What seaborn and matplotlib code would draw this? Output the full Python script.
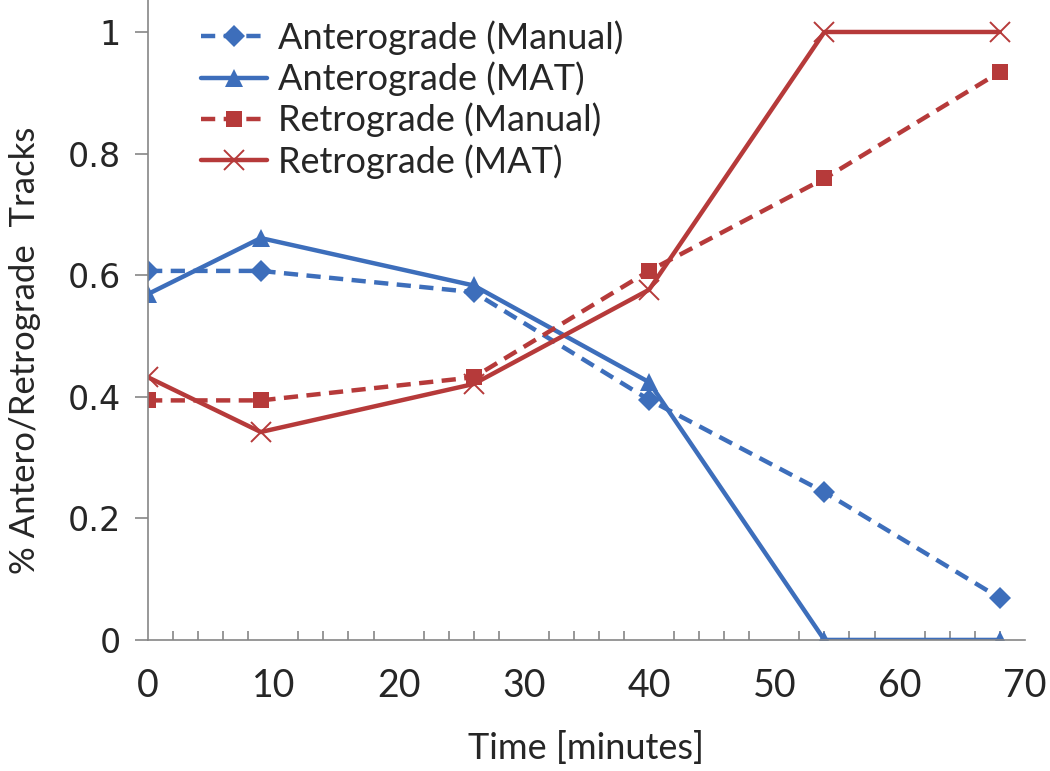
import numpy as np
import pandas as pd
import matplotlib
matplotlib.use('Agg')
import matplotlib.pyplot as plt
import seaborn as sns
from matplotlib.ticker import MultipleLocator

# Data
time_min = [0, 9, 26, 40, 54, 68]
antero_manual = [0.607, 0.607, 0.572, 0.395, 0.243, 0.069]
antero_mat = [0.569, 0.661, 0.583, 0.424, 0.0, 0.0]
retro_manual = [0.394, 0.394, 0.432, 0.607, 0.759, 0.934]
retro_mat = [0.432, 0.342, 0.421, 0.576, 1.0, 1.0]
y_ticks = [0, 0.2, 0.4, 0.6, 0.8, 1.0]
y_tick_labels = ['0', '0.2', '0.4', '0.6', '0.8', '1']

blue = '#3D6EBB'
red = '#B63A3A'

sns.set_style('white')
plt.rcParams['font.family'] = ['Lato', 'DejaVu Sans']

fig = plt.figure(figsize=(10.5, 7.71), dpi=100)
ax = fig.add_axes([0.141, 0.170, 0.835, 0.830])

dash = (0, (3.2, 1.9))
sns.lineplot(x=time_min, y=antero_manual, ax=ax, color=blue, lw=3.2, linestyle=dash,
             marker='D', markersize=11, markeredgewidth=0, label='Anterograde (Manual)')
sns.lineplot(x=time_min, y=antero_mat, ax=ax, color=blue, lw=3.2,
             marker='^', markersize=13, markeredgewidth=0, label='Anterograde (MAT)')
sns.lineplot(x=time_min, y=retro_manual, ax=ax, color=red, lw=3.2, linestyle=dash,
             marker='s', markersize=12, markeredgewidth=0, label='Retrograde (Manual)')
sns.lineplot(x=time_min, y=retro_mat, ax=ax, color=red, lw=3.2,
             marker='x', markersize=14, markeredgewidth=1.4, markeredgecolor=red,
             label='Retrograde (MAT)')

ax.set_xlim(0, 70)
ax.set_ylim(0, 1.0526)
ax.set_yticks(y_ticks)
ax.set_yticklabels(y_tick_labels, fontfamily='DejaVu Sans')
ax.set_xticks(range(0, 71, 10))
ax.xaxis.set_minor_locator(MultipleLocator(2))

for side in ['top', 'right']:
    ax.spines[side].set_visible(False)
for side in ['left', 'bottom']:
    ax.spines[side].set_color('#868686')
    ax.spines[side].set_linewidth(1.2)

ax.tick_params(axis='x', which='major', direction='inout', length=14, width=1.2,
               color='#868686', labelsize=27, pad=13)
ax.tick_params(axis='x', which='minor', direction='in', length=6.5, width=1.2,
               color='#868686', bottom=True)
ax.tick_params(axis='y', which='major', direction='out', length=9.5, width=1.2,
               color='#868686', left=True, labelsize=24, pad=10)

ax.set_xlabel('Time [minutes]', fontsize=26, labelpad=20)
ax.set_ylabel('% Antero/Retrograde  Tracks', fontsize=25)
ax.yaxis.set_label_coords(-0.140, 0.453)
ax.yaxis.label.set_va('center')

ax.legend(loc='upper left', bbox_to_anchor=(0.060, 0.968), frameon=False, fontsize=26,
          handlelength=1.85, handletextpad=0.3, labelspacing=0.18,
          borderpad=0, borderaxespad=0)

fig.savefig('out.png', dpi=100)
